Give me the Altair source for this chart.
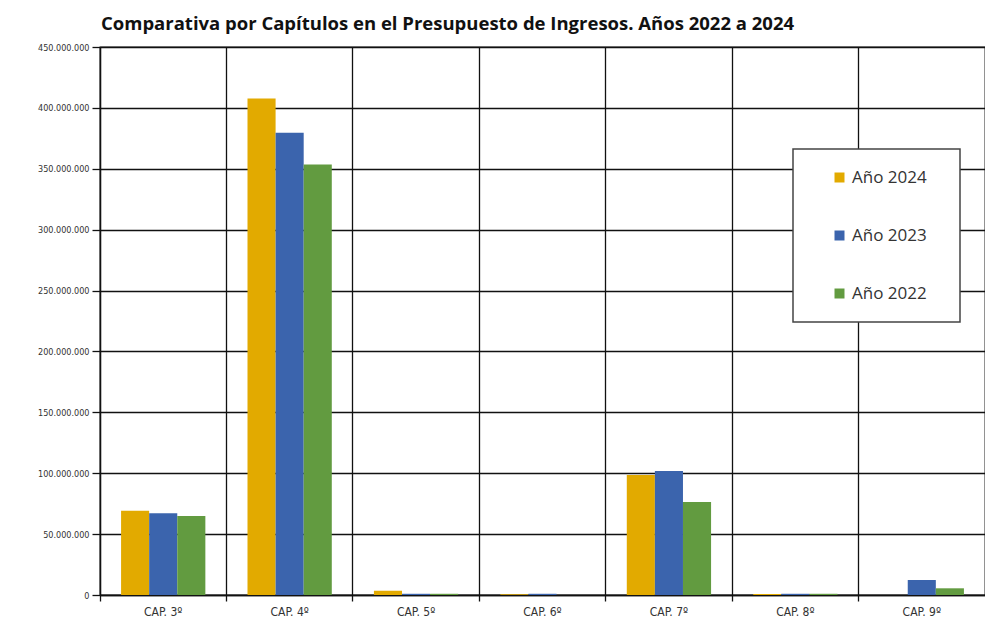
import altair as alt
import pandas as pd

caps = ["CAP. 3º", "CAP. 4º", "CAP. 5º", "CAP. 6º", "CAP. 7º", "CAP. 8º", "CAP. 9º"]
years = ["Año 2024", "Año 2023", "Año 2022"]
v2024 = [69200000, 407800000, 3500000, 600000, 98500000, 800000, 0]
v2023 = [67100000, 379600000, 1000000, 1000000, 101800000, 1000000, 12300000]
v2022 = [64900000, 353600000, 1000000, 0, 76400000, 1000000, 5500000]
colors = ["#E2AA00", "#3B64AD", "#629B40"]
y_ticks = [i * 50000000 for i in range(10)]

rows = []
for year, vals in zip(years, [v2024, v2023, v2022]):
    for c, v in zip(caps, vals):
        rows.append({"cap": c, "year": year, "value": v})
df = pd.DataFrame(rows)

label_font = "Liberation Sans Narrow, DejaVu Sans Condensed, Liberation Sans"
nb = "\u00a0" * 3 + "\u200b"

chart = alt.Chart(df).mark_bar().encode(
    x=alt.X("cap:N", sort=caps, title=None,
            scale=alt.Scale(paddingInner=0, paddingOuter=0),
            axis=alt.Axis(bandPosition=0, grid=True, gridColor="#111", gridWidth=1.3,
                          gridOpacity=1, labelAngle=0, labelFontSize=12, labelFont=label_font,
                          labelColor="#333", tickColor="#111", tickSize=6, tickWidth=1.3,
                          domainColor="#111", domainWidth=1.3, labelPadding=5)),
    xOffset=alt.XOffset("year:N", sort=years,
                        scale=alt.Scale(paddingInner=0, paddingOuter=0.75)),
    y=alt.Y("value:Q", title=None,
            scale=alt.Scale(domain=[0, 450000000], nice=False),
            axis=alt.Axis(values=y_ticks, grid=True, gridColor="#111", gridWidth=1.3,
                          gridOpacity=1, labelFontSize=9, labelFont=label_font,
                          labelColor="#333", tickColor="#111", tickSize=8, tickWidth=1.3,
                          domainColor="#111", domainWidth=1.3, labelPadding=3,
                          labelExpr="replace(format(datum.value, ',d'), /,/g, '.')")),
    color=alt.Color("year:N", sort=years,
                    scale=alt.Scale(domain=years, range=colors),
                    legend=alt.Legend(title=None, orient="none", legendX=693, legendY=102,
                                      padding=20, symbolOffset=18, rowPadding=40,
                                      labelOffset=4,
                                      symbolType="square", symbolSize=100, symbolStrokeWidth=0,
                                      labelFontSize=17, labelFont="Open Sans", labelColor="#333",
                                      labelExpr="datum.label + '" + nb + "'",
                                      strokeColor="#444", fillColor="white")),
).properties(
    width=885, height=548,
    padding={"left": 29, "top": 6, "right": 0, "bottom": 5},
    title=alt.TitleParams("Comparativa por Capítulos en el Presupuesto de Ingresos. Años 2022 a 2024",
                          anchor="start", frame="group", dx=1, fontSize=18.5, font="Open Sans",
                          fontWeight="bold", color="#111", offset=10),
).configure_view(stroke="#111", strokeWidth=1.3).configure_legend(strokeWidth=1.5)

chart.save("out.html", embed_options={"renderer": "svg", "actions": False})
